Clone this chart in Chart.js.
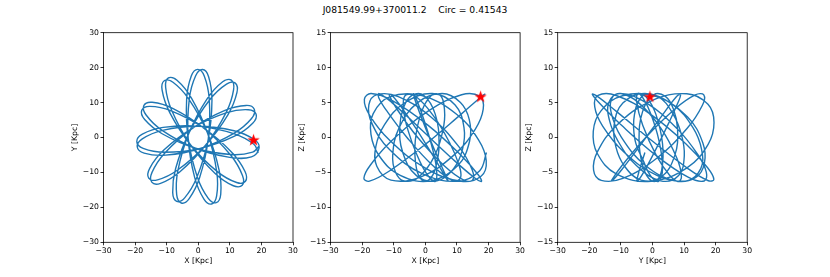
<!DOCTYPE html>
<html><head><meta charset="utf-8">
<script src="https://cdn.jsdelivr.net/npm/chart.js@4/dist/chart.umd.min.js"></script>
<style>
html,body{margin:0;padding:0;background:#fff;}
#fig{position:relative;width:830px;height:277px;overflow:hidden;background:#fff;}
#title{position:absolute;left:0;width:830px;top:4px;text-align:center;font-family:"DejaVu Sans";font-size:9.2px;color:#000;white-space:pre;}
canvas{position:absolute;}
</style></head><body>
<div id="fig">
<div id="title">J081549.99+370011.2    Circ = 0.41543</div>
<canvas id="c0"></canvas><canvas id="c1"></canvas><canvas id="c2"></canvas>
</div>
<script>
// ---- data (kpc) ----
const orbitX = [
19.00, 17.61, 11.44, 0.27, -11.11, -17.70,
-19.46, -17.44, -10.67, 0.65, 11.48, 17.24,
18.32, 15.83, 9.03, -1.52, -10.90, -15.37,
-15.68, -12.92, -6.64, 2.25, 9.43, 12.24,
11.74, 8.95, 3.70, -2.81, -7.18, -8.09,
-6.83, -4.24, -0.46, 3.13, 4.34, 3.28,
1.36, -0.82, -2.82, -3.19, -1.14, 1.80,
4.22, 5.82, 5.86, 2.99, -2.15, -6.73,
-9.45, -10.33, -8.42, -2.55, 5.27, 11.11,
13.91, 14.00, 10.29, 1.89, -7.95, -14.58,
-17.22, -16.51, -11.31, -1.08, 9.98, 16.84,
19.28, 17.72, 11.32, 0.01, -11.30, -17.72,
-19.31, -17.15, -10.31, 0.89, 11.41, 16.87,
17.74, 15.16, 8.45, -1.74, -10.58, -14.64,
-14.72, -11.93, -5.88, 2.43, 8.88, 11.19,
10.47, 7.73, 2.85, -2.93, -6.45, -6.83,
-5.38, -2.87, 0.44, 3.17, 3.49, 1.90,
-0.17, -2.21, -3.68, -3.16, -0.24, 3.18,
5.70, 7.12, 6.62, 2.90, -3.04, -8.00,
-10.77, -11.44, -9.02, -2.40, 6.05, 12.16,
14.94, 14.81, 10.66, 1.68, -8.57, -15.32,
-17.89, -16.96, -11.43, -0.84, 10.39, 17.22,
19.35];
const orbitY = [
-4.39, -1.95, 1.04, 3.19, 2.91, 0.98,
-1.19, -3.13, -4.24, -3.13, 0.36, 4.09,
6.67, 7.95, 7.10, 2.82, -3.61, -8.82,
-11.60, -12.12, -9.37, -2.27, 6.56, 12.82,
15.57, 15.30, 10.87, 1.54, -8.96, -15.77,
-18.27, -17.21, -11.47, -0.68, 10.63, 17.41,
19.45, 17.70, 11.13, -0.24, -11.43, -17.63,
-19.04, -16.74, -9.87, 1.13, 11.28, 16.39,
17.05, 14.40, 7.80, -1.94, -10.20, -13.81,
-13.67, -10.87, -5.09, 2.58, 8.29, 10.08,
9.16, 6.45, 1.96, -3.01, -5.69, -5.53,
-2.88, -0.57, 1.94, 3.20, 2.04, -0.41,
-2.72, -4.49, -5.06, -3.08, 1.26, 5.43,
8.09, 9.18, 7.78, 2.70, -4.44, -9.99,
-12.79, -13.11, -9.86, -2.09, 7.27, 13.73,
16.44, 15.96, 11.12, 1.32, -9.50, -16.35,
-18.74, -17.49, -11.47, -0.44, 10.93, 17.63,
19.49, 17.58, 10.88, -0.49, -11.47, -17.44,
-18.64, -16.23, -9.39, 1.36, 11.07, 15.82,
16.26, 13.54, 7.12, -2.13, -9.76, -12.89,
-12.53, -9.74, -4.27, 2.73, 7.64, 8.91,
7.78, 5.13, 1.07, -3.09, -4.88, -4.18,
-2.39];
const orbitZ = [
6.27, 5.80, 3.38, -0.88, -4.71, -6.25,
-5.84, -3.97, -0.48, 3.70, 6.12, 5.88,
4.05, 1.21, -2.52, -5.66, -6.10, -4.12,
-1.31, 1.83, 4.94, 6.30, 4.65, 1.41,
-1.74, -4.45, -6.20, -5.46, -2.11, 1.64,
4.38, 6.02, 6.01, 3.34, -0.92, -4.30,
-5.99, -6.19, -4.41, -0.44, 3.74, 5.96,
6.20, 4.90, 1.78, -2.56, -5.68, -6.22,
-4.96, -2.47, 1.27, 4.96, 6.29, 5.02,
2.56, -0.54, -4.02, -6.20, -5.43, -2.65,
0.44, 3.42, 5.82, 5.99, 3.30, -0.34,
-3.34, -5.50, -6.27, -4.38, -0.40, 3.25,
5.46, 6.30, 5.25, 1.74, -2.60, -5.41,
-6.30, -5.62, -3.00, 1.31, 4.99, 6.29,
5.66, 3.62, 0.04, -4.05, -6.21, -5.71,
-3.70, -0.78, 2.92, 5.84, 5.98, 3.78,
0.88, -2.25, -5.20, -6.27, -4.34, -0.97,
2.15, 4.75, 6.26, 5.22, 1.69, -2.06,
-4.68, -6.14, -5.86, -2.96, 1.35, 4.61,
6.11, 6.09, 4.08, 0.00, -4.08, -6.09,
-6.11, -4.61, -1.35, 2.96, 5.86, 6.14,
4.68, 2.06, -1.69, -5.22, -6.26, -4.75,
-2.15];
const starX = 17.5, starY = -0.8, starZ = 5.8;
const xyTicks = [-30, -20, -10, 0, 10, 20, 30];
const zTicks = [-15, -10, -5, 0, 5, 10, 15];
const axisNames = ['X [Kpc]', 'Y [Kpc]', 'Z [Kpc]'];

// ---- layout / style ----
const Y_AXIS_W = 45, PLOT_W = 189.5, PLOT_H = 209.6, PLOT_TOP = 32.7;
const CANVAS_W = 244, CANVAS_H = 252, CANVAS_TOP = 25;
const FONT = 'DejaVu Sans';
const LINE_COLOR = '#1f77b4';

function fmt(v){ return v < 0 ? '\u2212' + Math.abs(v) : String(v); }

function starImage(r, color){
  const s = Math.ceil(r * 2 + 2);
  const c = document.createElement('canvas'); c.width = s; c.height = s;
  const g = c.getContext('2d'); g.fillStyle = color; g.beginPath();
  for (let i = 0; i < 10; i++){
    const a = -Math.PI / 2 + i * Math.PI / 5;
    const rr = (i % 2) ? r * 0.4 : r;
    g.lineTo(s / 2 + rr * Math.cos(a), s / 2 + rr * Math.sin(a));
  }
  g.closePath(); g.fill();
  return c;
}
const STAR = starImage(6.5, '#ff0000');

const frame = { id: 'frame', afterDatasetsDraw(chart){
  const {ctx, chartArea: a} = chart;
  ctx.save(); ctx.strokeStyle = '#000'; ctx.lineWidth = 0.8;
  ctx.strokeRect(a.left, a.top, a.right - a.left, a.bottom - a.top);
  ctx.restore();
}};

function axis(isX, ticksArr, label, xAxisH){
  return {
    type: 'linear', position: isX ? 'bottom' : 'left',
    min: ticksArr[0], max: ticksArr[ticksArr.length - 1],
    afterBuildTicks: s => { s.ticks = ticksArr.map(v => ({value: v})); },
    afterFit: s => { if (isX) s.height = xAxisH; else s.width = Y_AXIS_W; },
    grid: {display: true, drawOnChartArea: false, drawTicks: true, tickLength: 3, tickWidth: 0.8, tickColor: '#000'},
    border: {display: false},
    ticks: {color: '#000', font: {family: FONT, size: 7.7}, padding: 1.5, maxRotation: 0, autoSkip: false, callback: v => fmt(v)},
    title: {display: true, text: label, color: '#000', font: {family: FONT, size: 7.7},
            padding: isX ? {top: 0, bottom: 11.1} : {top: 11.4, bottom: 0}}
  };
}

const panels = [
  {left: 103.5, hx: orbitX, hy: orbitY, sx: starX, sy: starY, xt: xyTicks, yt: xyTicks, xl: axisNames[0], yl: axisNames[1]},
  {left: 330.6, hx: orbitX, hy: orbitZ, sx: starX, sy: starZ, xt: xyTicks, yt: zTicks, xl: axisNames[0], yl: axisNames[2]},
  {left: 557.7, hx: orbitY, hy: orbitZ, sx: starY, sy: starZ, xt: xyTicks, yt: zTicks, xl: axisNames[1], yl: axisNames[2]}
];

panels.forEach((p, i) => {
  const cv = document.getElementById('c' + i);
  const cLeft = Math.floor(p.left) - Y_AXIS_W;
  cv.width = CANVAS_W; cv.height = CANVAS_H;
  cv.style.left = cLeft + 'px'; cv.style.top = CANVAS_TOP + 'px';
  cv.style.width = CANVAS_W + 'px'; cv.style.height = CANVAS_H + 'px';
  const padL = p.left - Y_AXIS_W - cLeft;
  const padR = CANVAS_W - Y_AXIS_W - padL - PLOT_W;
  const padT = PLOT_TOP - CANVAS_TOP;
  const xAxisH = CANVAS_H - padT - PLOT_H;
  new Chart(cv, {
    type: 'scatter',
    data: { datasets: [
      { data: [{x: p.sx, y: p.sy}], pointStyle: STAR, pointRadius: 6, order: 0, showLine: false },
      { data: p.hx.map((v, j) => ({x: v, y: p.hy[j]})), showLine: true, borderColor: LINE_COLOR,
        borderWidth: 1.4, tension: 0.4, pointRadius: 0, fill: false, order: 1 }
    ]},
    options: {
      responsive: false, devicePixelRatio: 1, animation: false, events: [],
      layout: {padding: {left: padL, right: padR, top: padT, bottom: 0}},
      plugins: {legend: {display: false}, tooltip: {enabled: false}, title: {display: false}},
      scales: { x: axis(true, p.xt, p.xl, xAxisH), y: axis(false, p.yt, p.yl, xAxisH) }
    },
    plugins: [frame]
  });
});
</script>
</body></html>
